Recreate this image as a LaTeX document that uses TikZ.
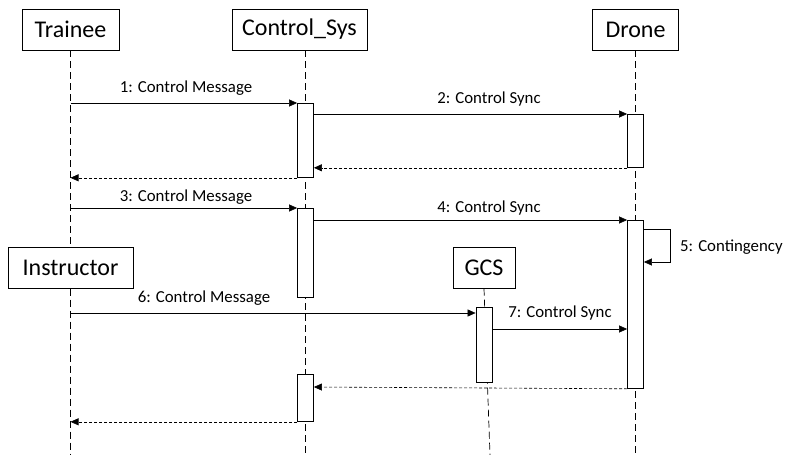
\documentclass[tikz,border=0pt]{standalone}
\usepackage{fontspec}
\setmainfont{Carlito}
\usetikzlibrary{arrows.meta,positioning}

\begin{document}
\begin{tikzpicture}[
    x=1pt, y=-1pt,
    actor/.style={rectangle, draw, fill=white, minimum height=41pt, inner sep=0pt, font=\fontsize{24}{26}\selectfont},
    activ/.style={rectangle, draw, thick, fill=white, minimum width=16pt, inner sep=0pt, anchor=north},
    life/.style={dash pattern=on 7pt off 4pt, line width=0.7pt},
    msg/.style={-{Triangle[length=8pt,width=7pt]}, line width=0.6pt},
    reply/.style={-{Triangle[length=8pt,width=7pt]}, dash pattern=on 3pt off 2pt, line width=0.6pt},
    lbl/.style={font=\fontsize{16.8}{18}\selectfont, inner sep=0pt}
]
    \useasboundingbox (0,0) rectangle (785,455);

    % Participants
    \node[actor, minimum width=97pt] (trainee) at (70.5,29.5) {Trainee};
    \node[actor, minimum width=135pt] (ctrl) at (299.5,29.5) {Control\_Sys};
    \node[actor, minimum width=86pt] (drone) at (635.5,29.5) {Drone};
    \node[actor, minimum width=125pt] (instr) at (70.5,268) {Instructor};
    \node[actor, minimum width=62pt] (gcs) at (484,268) {GCS};

    % Lifelines
    \coordinate (ctrlL) at ([xshift=6pt]ctrl.south);
    \draw[life] (trainee.south) -- (instr.north);
    \draw[life] (instr.south) -- (instr.south |- 0,455);
    \draw[life] (ctrlL) -- (ctrlL |- 0,455);
    \draw[life] (drone.south) -- (drone.south |- 0,455);
    \draw[life] (gcs.south) -- ([xshift=6pt]gcs.south |- 0,455);

    % Activation bars
    \node[activ, minimum height=74pt] (act1) at (ctrlL |- 0,103) {};
    \node[activ, minimum height=53pt] (act2) at (drone.south |- 0,114) {};
    \node[activ, minimum height=89pt] (act3) at (ctrlL |- 0,208) {};
    \node[activ, minimum height=168pt] (act4) at (drone.south |- 0,220) {};
    \node[activ, minimum height=75pt] (act5) at (484,307) {};
    \node[activ, minimum height=47pt] (act6) at (ctrlL |- 0,374) {};

    % Messages
    \draw[msg] (trainee.south |- act1.north) -- (act1.north west);
    \node[lbl] (m1) at (186,88) {1: Control Message};
    \draw[msg] (act1.east |- act2.north) -- (act2.north west);
    \node[lbl] (m2) at (489,99) {2: Control Sync};
    \draw[reply] (act2.south west) -- (act1.east |- act2.south);
    \draw[reply] (act1.south west) -- (trainee.south |- act1.south);

    \draw[msg] (trainee.south |- act3.north) -- (act3.north west);
    \node[lbl] (m3) at (186,197) {3: Control Message};
    \draw[msg] (act3.east |- act4.north) -- (act4.north west);
    \node[lbl] (m4) at (489,208) {4: Control Sync};
    \draw[msg] ([yshift=-9pt]act4.north east) -| ++(26,33) -- ([yshift=-42pt]act4.north east);
    \node[lbl, anchor=west] (m5) at (680,247) {5: Contingency};

    \draw[msg] (instr.south |- 0,313) -- ([yshift=-6pt]act5.north west);
    \node[lbl] (m6) at (204,298) {6: Control Message};
    \draw[msg] ([yshift=-22pt]act5.north east) -- (act4.west |- 0,329);
    \node[lbl] (m7) at (560,313) {7: Control Sync};
    \draw[reply] (act4.south west) -- (act6.east |- 0,387);
    \draw[reply] (act6.south west) -- (instr.south |- act6.south);
\end{tikzpicture}
\end{document}
